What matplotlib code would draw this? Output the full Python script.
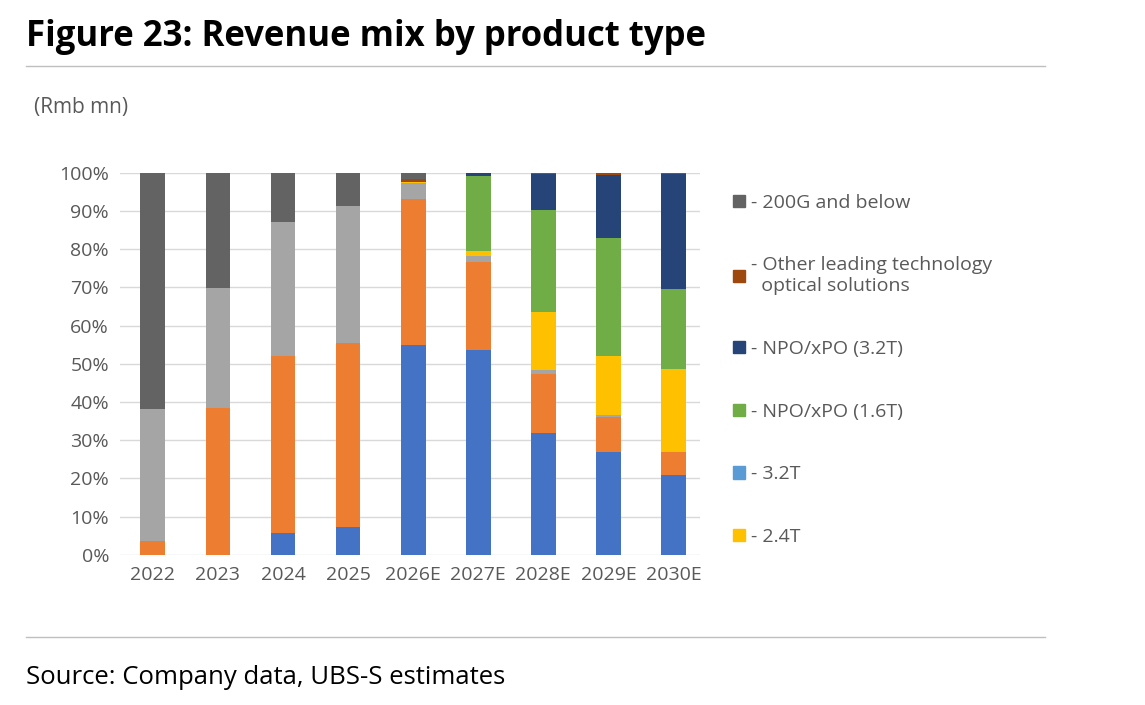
import numpy as np
import matplotlib
matplotlib.use('Agg')
import matplotlib.pyplot as plt
from matplotlib.patches import Patch

plt.rcParams['font.family'] = ['Open Sans', 'DejaVu Sans']

years = ['2022', '2023', '2024', '2025', '2026E', '2027E', '2028E', '2029E', '2030E']

# shares in %, bottom to top
s_800g = [0, 0, 5.7, 7.3, 54.8, 53.7, 32.0, 26.9, 20.8]
s_16t = [3.7, 38.3, 46.4, 48.1, 38.2, 22.9, 15.2, 9.2, 6.2]
s_400g = [34.5, 31.6, 35.1, 35.9, 4.4, 1.6, 1.1, 0.5, 0]
s_24t = [0, 0, 0, 0, 0.3, 1.4, 15.2, 15.4, 21.6]
s_32t = [0, 0, 0, 0, 0, 0, 0, 0, 0]
s_npo16 = [0, 0, 0, 0, 0, 19.5, 26.7, 30.9, 21.0]
s_npo32 = [0, 0, 0, 0, 0, 0.9, 9.4, 16.6, 30.0]
s_other = [0, 0, 0, 0, 0.6, 0, 0.4, 0.5, 0.4]
s_200g = [61.8, 30.1, 12.8, 8.7, 1.7, 0, 0, 0, 0]

series = [
    (s_800g, '#4472C4', None),
    (s_16t, '#ED7D31', None),
    (s_400g, '#A5A5A5', None),
    (s_24t, '#FFC000', '- 2.4T'),
    (s_32t, '#5B9BD5', '- 3.2T'),
    (s_npo16, '#70AD47', '- NPO/xPO (1.6T)'),
    (s_npo32, '#264478', '- NPO/xPO (3.2T)'),
    (s_other, '#9E480E', '- Other leading technology\n  optical solutions'),
    (s_200g, '#636363', '- 200G and below'),
]

fig = plt.figure(figsize=(11.45, 7.05), dpi=100)
ax = fig.add_axes([0.105, 0.213, 0.506, 0.542])
x = np.arange(len(years))
bottom = np.zeros(len(years))
for vals, col, lab in series:
    v = np.array(vals)
    ax.bar(x, v, 0.38, bottom=bottom, color=col, zorder=3)
    bottom += v

ax.set_ylim(0, 100)
ax.set_xlim(-0.5, 8.4)
ax.set_yticks(range(0, 101, 10))
ax.set_yticklabels([f'{t}%' for t in range(0, 101, 10)], fontsize=14, color='#595959')
ax.set_xticks(x)
ax.set_xticklabels(years, fontsize=14, color='#595959')
ax.tick_params(length=0, pad=8)
ax.grid(axis='y', color='#d9d9d9', lw=1, zorder=0)
for sp in ax.spines.values():
    sp.set_visible(False)

handles = [Patch(color=col, label=lab) for vals, col, lab in reversed(series) if lab]
leg = fig.legend(handles=handles, loc='upper left', bbox_to_anchor=(0.625, 0.75),
                 frameon=False, fontsize=14, labelcolor='#595959', handlelength=0.6,
                 handleheight=0.6, handletextpad=0.3, labelspacing=2.3)

fig.text(0.023, 0.935, 'Figure 23: Revenue mix by product type', fontsize=25, fontweight='bold', color='black')
fig.add_artist(plt.Line2D([0.023, 0.913], [0.907, 0.907], color='#bfbfbf', lw=1))
fig.text(0.03, 0.84, '(Rmb mn)', fontsize=15, color='#595959')
fig.add_artist(plt.Line2D([0.023, 0.913], [0.097, 0.097], color='#bfbfbf', lw=1))
fig.text(0.023, 0.03, 'Source: Company data, UBS-S estimates', fontsize=18.5, color='black')

fig.savefig('out.png', dpi=100)
